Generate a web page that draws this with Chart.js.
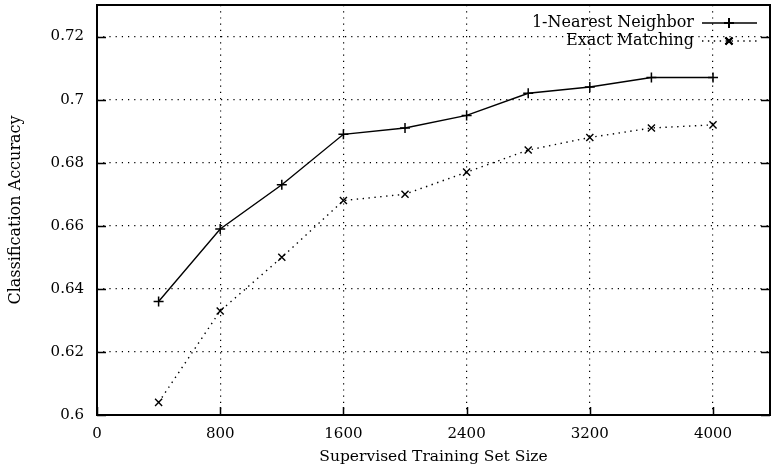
<!DOCTYPE html>
<html><head><meta charset="utf-8">
<script src="https://cdn.jsdelivr.net/npm/chart.js@4/dist/chart.umd.min.js"></script>
<style>html,body{margin:0;padding:0;background:#fff}#wrap{width:771px;height:469px}</style>
</head><body><div id="wrap"><canvas id="c" width="771" height="469"></canvas></div>
<script>
const trainSizes = [400, 800, 1200, 1600, 2000, 2400, 2800, 3200, 3600, 4000];
const nearestNeighbor = [0.636, 0.659, 0.673, 0.689, 0.691, 0.695, 0.702, 0.704, 0.707, 0.707];
const exactMatching = [0.604, 0.633, 0.650, 0.668, 0.670, 0.677, 0.684, 0.688, 0.691, 0.692];
const xTicks = [0, 800, 1600, 2400, 3200, 4000];
const yTicks = [0.6, 0.62, 0.64, 0.66, 0.68, 0.7, 0.72];
const seriesNames = ['1-Nearest Neighbor', 'Exact Matching'];

const FONT = 'DejaVu Serif';

const frame = {
  id: 'frame',
  afterDraw(chart) {
    const {ctx, chartArea: a, scales} = chart;
    ctx.save();
    ctx.strokeStyle = '#000';
    ctx.lineWidth = 1.5;
    ctx.beginPath();
    scales.y.ticks.forEach(t => {
      const p = Math.round(scales.y.getPixelForValue(t.value)) + 0.5;
      ctx.moveTo(a.left, p); ctx.lineTo(a.left + 9, p);
      ctx.moveTo(a.right, p); ctx.lineTo(a.right - 9, p);
    });
    scales.x.ticks.forEach(t => {
      const p = Math.round(scales.x.getPixelForValue(t.value)) + 0.5;
      ctx.moveTo(p, a.bottom); ctx.lineTo(p, a.bottom - 8);
    });
    ctx.stroke();
    ctx.lineWidth = 2;
    ctx.strokeRect(a.left, a.top, a.right - a.left, a.bottom - a.top);
    // legend
    ctx.font = '16px "' + FONT + '"';
    ctx.fillStyle = '#000';
    ctx.textAlign = 'right';
    ctx.textBaseline = 'middle';
    const rows = [23, 41];
    chart.data.datasets.forEach((ds, i) => {
      const y = rows[i];
      ctx.fillText(ds.label, 694, y);
      ctx.save();
      ctx.lineWidth = ds.borderWidth;
      ctx.setLineDash(ds.borderDash || []);
      ctx.beginPath(); ctx.moveTo(702, y); ctx.lineTo(757, y); ctx.stroke();
      ctx.restore();
      Chart.helpers.drawPoint(ctx, {pointStyle: ds.pointStyle, radius: ds.pointRadius, borderWidth: ds.pointBorderWidth}, 729, y);
      ctx.stroke();
    });
    ctx.restore();
  }
};

new Chart(document.getElementById('c'), {
  type: 'line',
  data: {
    datasets: [
      {
        label: seriesNames[0],
        data: trainSizes.map((x, i) => ({x, y: nearestNeighbor[i]})),
        borderColor: '#000', backgroundColor: '#000', borderWidth: 1.4,
        pointStyle: 'cross', pointRadius: 5, pointBorderWidth: 1.5, pointBorderColor: '#000',
        fill: false, tension: 0
      },
      {
        label: seriesNames[1],
        data: trainSizes.map((x, i) => ({x, y: exactMatching[i]})),
        borderColor: '#000', backgroundColor: '#000', borderWidth: 1.4, borderDash: [1.4, 4.5],
        pointStyle: 'crossRot', pointRadius: 5, pointBorderWidth: 1.4, pointBorderColor: '#000',
        fill: false, tension: 0
      }
    ]
  },
  options: {
    responsive: false, animation: false, devicePixelRatio: 1,
    layout: {autoPadding: false, padding: {top: 5, right: 1, left: 0, bottom: 0}},
    plugins: {legend: {display: false}, tooltip: {enabled: false}},
    scales: {
      x: {
        type: 'linear', min: 0, max: 4370,
        afterBuildTicks: s => { s.ticks = xTicks.map(v => ({value: v})); },
        afterFit: s => { s.height = 54; s.paddingLeft = 0; s.paddingRight = 0; },
        grid: {color: '#000', lineWidth: 1.2, drawTicks: false},
        border: {display: false, dash: [1.2, 5]},
        ticks: {color: '#000', font: {family: FONT, size: 15}, padding: 10, maxRotation: 0,
          callback: v => String(v)},
        title: {display: true, text: 'Supervised Training Set Size', color: '#000',
          font: {family: FONT, size: 15.5}, padding: {top: 0, bottom: 3}}
      },
      y: {
        type: 'linear', min: 0.6, max: 0.73,
        afterBuildTicks: s => { s.ticks = yTicks.map(v => ({value: v})); },
        afterFit: s => { s.width = 97; s.paddingTop = 0; s.paddingBottom = 0; },
        grid: {color: '#000', lineWidth: 1.2, drawTicks: false},
        border: {display: false, dash: [1.2, 5]},
        ticks: {color: '#000', font: {family: FONT, size: 15}, padding: 13,
          callback: v => String(Number(v.toFixed(2)))},
        title: {display: true, text: 'Classification Accuracy', color: '#000',
          font: {family: FONT, size: 16}, padding: {top: 6, bottom: 0}}
      }
    }
  },
  plugins: [frame]
});
</script></body></html>
